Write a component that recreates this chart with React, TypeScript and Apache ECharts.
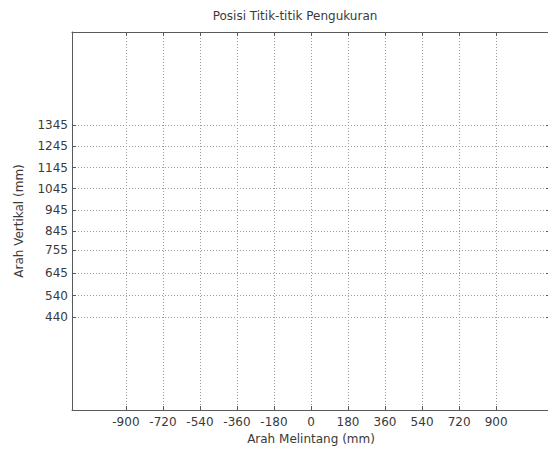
import React, { useEffect, useRef } from "react";
import * as echarts from "echarts";

// Measurement grid: transverse positions (x) and vertical positions (y), in mm
const xTicks = [-900, -720, -540, -360, -180, 0, 180, 360, 540, 720, 900];
const yTicks = [440, 540, 645, 755, 845, 945, 1045, 1145, 1245, 1345];
const xRange = [-1162, 1162];
const yRange = [0, 1785];

const titleText = "Posisi Titik-titik Pengukuran";
const xName = "Arah Melintang (mm)";
const yName = "Arah Vertikal (mm)";

const FONT = "DejaVu Sans";
const FRAME = "#5a5a5a";
const TEXT = "#3a3a3a";
const GRID = "#9a9a9a";

const plain = (v: number) => String(v);

export default function App() {
  const ref = useRef<HTMLDivElement>(null);

  useEffect(() => {
    document.body.style.margin = "0";
    if (!ref.current) return;
    const chart = echarts.init(ref.current, null, { renderer: "svg" });

    const tickStyle = { color: FRAME, width: 1 };
    const gridLine = { show: true, lineStyle: { color: GRID, width: 1, type: [1, 2] as number[] } };
    const label = { fontFamily: FONT, fontSize: 12, color: TEXT };

    // Box axes (top / right) only carry inward ticks
    const boxX = {
      type: "value",
      min: xRange[0],
      max: xRange[1],
      position: "top",
      axisLine: { show: true, onZero: false, lineStyle: tickStyle },
      axisTick: { show: true, inside: true, length: 4, customValues: xTicks, lineStyle: tickStyle },
      axisLabel: { show: false },
      splitLine: { show: false },
    };
    const boxY = {
      type: "value",
      min: yRange[0],
      max: yRange[1],
      position: "right",
      axisLine: { show: true, onZero: false, lineStyle: tickStyle },
      axisTick: { show: true, inside: true, length: 4, customValues: yTicks, lineStyle: tickStyle },
      axisLabel: { show: false },
      splitLine: { show: false },
    };

    chart.setOption({
      animation: false,
      backgroundColor: "#ffffff",
      grid: {
        left: 72,
        top: 32,
        width: 478,
        height: 378,
        containLabel: false,
        outerBoundsMode: "none",
      },
      graphic: [
        {
          type: "text",
          x: 295,
          y: 16,
          style: {
            text: titleText,
            fontFamily: FONT,
            fontSize: 12,
            fill: TEXT,
            textAlign: "center",
            textVerticalAlign: "middle",
          },
        },
      ],
      xAxis: [
        {
          type: "value",
          min: xRange[0],
          max: xRange[1],
          position: "bottom",
          axisLine: { show: true, onZero: false, lineStyle: tickStyle },
          axisTick: { show: true, inside: true, length: 4, customValues: xTicks, lineStyle: tickStyle },
          axisLabel: { ...label, customValues: xTicks, margin: 6, formatter: plain },
          splitLine: gridLine,
          name: xName,
          nameLocation: "middle",
          nameGap: 22,
          nameTextStyle: { ...label },
        },
        boxX,
      ],
      yAxis: [
        {
          type: "value",
          min: yRange[0],
          max: yRange[1],
          position: "left",
          axisLine: { show: true, onZero: false, lineStyle: tickStyle },
          axisTick: { show: true, inside: true, length: 4, customValues: yTicks, lineStyle: tickStyle },
          axisLabel: { ...label, customValues: yTicks, margin: 4, formatter: plain },
          splitLine: gridLine,
          name: yName,
          nameLocation: "middle",
          nameGap: 47,
          nameTextStyle: { ...label },
        },
        boxY,
      ],
      series: [
        {
          type: "scatter",
          xAxisIndex: 0,
          yAxisIndex: 0,
          data: [],
          silent: true,
        },
      ],
    });

    return () => chart.dispose();
  }, []);

  return <div ref={ref} style={{ width: 548, height: 450 }} />;
}
